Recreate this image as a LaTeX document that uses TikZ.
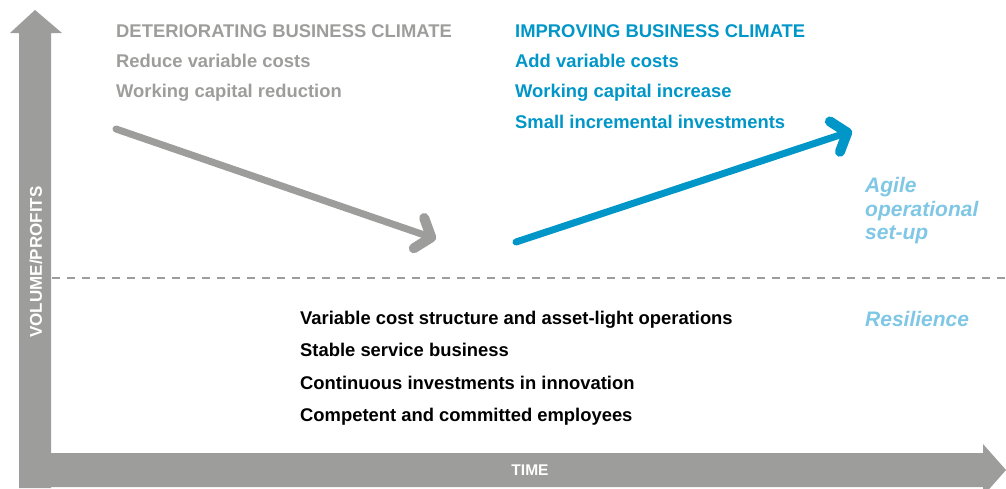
\documentclass[tikz,border=0pt]{standalone}
\usepackage{fontspec}
\setmainfont{Liberation Sans}
\usetikzlibrary{%
  arrows.meta%
}
\definecolor{axisgray}{HTML}{9D9D9C}
\definecolor{climblue}{HTML}{0096C8}
\definecolor{lightblue}{HTML}{7FC7E5}

\begin{document}
\begin{tikzpicture}[x=1pt,y=-1pt,
    txt/.style={anchor=west,inner sep=0pt,text height=13pt,text depth=0pt,
      font=\fontsize{18.4}{20}\selectfont\bfseries},
    side/.style={anchor=west,inner sep=0pt,align=left,text=lightblue,
      font=\fontsize{21}{23.5}\selectfont\bfseries\itshape},
    axislabel/.style={text=white,inner sep=0pt,font=\fontsize{15.5}{18}\selectfont\bfseries},
    trend/.style={line width=7pt,line cap=round,
      -{Straight Barb[length=13pt,width=32pt,line width=3pt 1,round]}}]
      \useasboundingbox (0,0) rectangle (1006,488);
      % axes
      \fill [axisgray] (19,488) -- (19,33) -- (10,33) -- (35,10) -- (62,33) -- (51,33) -- (51,488) -- cycle;
      \fill [axisgray] (19,453) -- (983,453) -- (983,444) -- (1006,470) -- (983,496) -- (983,487) -- (19,487) -- cycle;
      \node [axislabel,font=\fontsize{17}{18}\selectfont\bfseries,rotate=90] (volume) at (36,262) {VOLUME/PROFITS};
      \node [axislabel] (time) at (530,470) {TIME};
      % dashed split
      \coordinate (splitL) at (52,278);
      \coordinate (splitR) at (1006,278);
      \draw [axisgray,line width=2.5pt,dash pattern=on 8pt off 7pt] (splitL) -- (splitR);
      % bad times
      \node [txt,text=axisgray] (detHead) at (116,31) {DETERIORATING BUSINESS CLIMATE};
      \node [txt,text=axisgray] (detCost) at (116,61) {Reduce variable costs};
      \node [txt,text=axisgray] (detCap) at (116,91) {Working capital reduction};
      % good times
      \node [txt,text=climblue] (impHead) at (515,31) {IMPROVING BUSINESS CLIMATE};
      \node [txt,text=climblue] (impCost) at (515,61) {Add variable costs};
      \node [txt,text=climblue] (impCap) at (515,91) {Working capital increase};
      \node [txt,text=climblue] (impInv) at (515,122) {Small incremental investments};
      \coordinate (downFrom) at (116,129);
      \coordinate (downTo) at (436,239);
      \coordinate (upFrom) at (516,242);
      \coordinate (upTo) at (852,131);
      \draw [trend,axisgray] (downFrom) -- (downTo);
      \draw [trend,climblue] (upFrom) -- (upTo);
      \node [side] (agile) at (865,211) {Agile\\operational\\set-up};
      % resilience
      \node [side] (resil) at (865,319) {Resilience};
      \node [txt] (resA) at (300,318) {Variable cost structure and asset-light operations};
      \node [txt] (resB) at (300,350) {Stable service business};
      \node [txt] (resC) at (300,383) {Continuous investments in innovation};
      \node [txt] (resD) at (300,415) {Competent and committed employees};
    \end{tikzpicture}
\end{document}
